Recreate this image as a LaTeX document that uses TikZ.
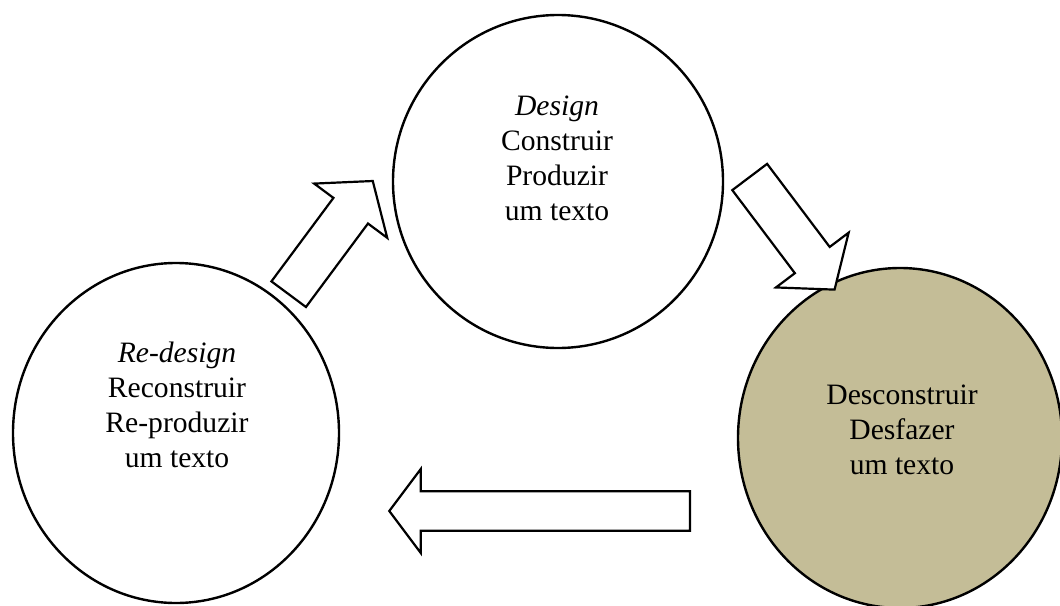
\documentclass[tikz,border=0pt]{standalone}
\usepackage{fontspec}
\setmainfont{Liberation Serif}
\usetikzlibrary{shapes.geometric}
\definecolor{tan}{HTML}{C4BD97}
\tikzset{
  stage/.style={ellipse, draw=black, line width=2.4pt, inner sep=0pt},
  label/.style={align=center, inner sep=0pt, font=\fontsize{29.6}{35}\selectfont},
  blockarrow/.style={draw=black, fill=white, line width=2.2pt, line join=miter}
}
% block arrow: #1 = length, #2 = half shaft width, #3 = half head width, #4 = head length
\newcommand\arrowshape[4]{(0,-#2) -- ({#1-#4},-#2) -- ({#1-#4},-#3) -- (#1,0) -- ({#1-#4},#3) -- ({#1-#4},#2) -- (0,#2) -- cycle}
\begin{document}
\begin{tikzpicture}[x=1pt,y=-1pt]
\useasboundingbox (0,0) rectangle (1060,605);
\fill[white] (0,0) rectangle (1060,605);

% the three stages of the cycle
\node[stage, minimum width=330, minimum height=333, fill=white] (design) at (558,181.5) {};
\node[stage, minimum width=324, minimum height=340, fill=tan] (deconstruct) at (900,438) {};
\node[stage, minimum width=326, minimum height=340, fill=white] (redesign) at (176,433) {};

\node[label] (designtext) at (557,158) {\textit{Design}\\Construir\\Produzir\\um texto};
\node[label] (deconstructtext) at (902,430) {Desconstruir\\Desfazer\\um texto};
\node[label] (redesigntext) at (177,405) {\textit{Re-design}\\Reconstruir\\Re-produzir\\um texto};

% block arrows leading from one stage to the next
\draw[blockarrow, shift={(288.7,294.2)}, rotate=53.4] \arrowshape{141}{21.5}{45.5}{37};
\draw[blockarrow, shift={(749.7,177)}, rotate=-53] \arrowshape{141}{21.8}{45.5}{37};
\draw[blockarrow, shift={(690,511)}, rotate=180] \arrowshape{300.7}{19.7}{42}{31.5};
\end{tikzpicture}
\end{document}
